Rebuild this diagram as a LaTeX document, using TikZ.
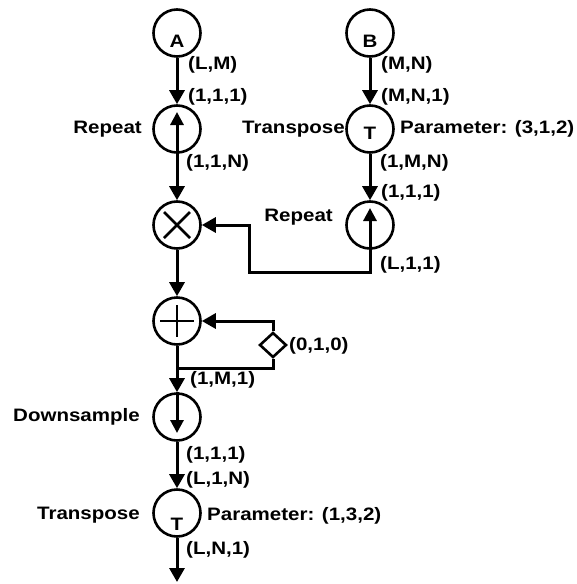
\documentclass[tikz,border=0pt]{standalone}
\usepackage{fontspec}
\setmainfont{Liberation Sans}[FakeStretch=1.14]
\usetikzlibrary{arrows.meta,shapes.geometric}
\begin{document}
\begin{tikzpicture}[x=1pt,y=-1pt,
  op/.style={circle,draw,line width=2.6pt,minimum size=47pt,inner sep=0pt},
  conn/.style={line width=3pt,-{Triangle[width=15pt,length=14pt]}},
  wire/.style={line width=3pt},
  sym/.style={line width=2.6pt},
  symarrow/.style={line width=3pt,-{Triangle[width=13pt,length=13pt]}},
  lbl/.style={font=\fontsize{18}{20}\selectfont\bfseries,inner sep=0pt},
  lw/.style={lbl,anchor=west},
  le/.style={lbl,anchor=east}]
\useasboundingbox (0,0) rectangle (577,584);
% operation circles
\node[op] (A) at (177,33) {};
\node[op] (B) at (370,33) {};
\node[op] (rep1) at (177,129) {};
\node[op] (trT) at (370,129) {};
\node[op] (mul) at (177,225) {};
\node[op] (rep2) at (370,225) {};
\node[op] (plus) at (177,321) {};
\node[op] (down) at (177,417) {};
\node[op] (trB) at (177,513) {};
\node[diamond,draw,line width=2.6pt,minimum width=27pt,minimum height=25pt,inner sep=0pt] (zero) at (273,345) {};
\coordinate (out) at (177,582);
\coordinate (fbturn) at (370,272);
\coordinate (fb) at (249,225);
\coordinate (br) at (177,368);
% letters inside
\node[lbl] (At) at (177,41) {A};
\node[lbl] (Bt) at (370,41) {B};
\node[lbl] (Tt1) at (370,133) {T};
\node[lbl] (Tt2) at (177,524) {T};
% symbols inside
\draw[symarrow] (rep1.south) -- ([yshift=17pt]rep1.center);
\draw[symarrow] (rep2.south) -- ([yshift=17pt]rep2.center);
\draw[symarrow] (down.north) -- ([yshift=-16pt]down.center);
\draw[sym] ([shift={(-13,-13)}]mul.center) -- ([shift={(13,13)}]mul.center);
\draw[sym] ([shift={(-13,13)}]mul.center) -- ([shift={(13,-13)}]mul.center);
\draw[sym] ([shift={(-17,0)}]plus.center) -- ([shift={(17,0)}]plus.center);
\draw[sym] ([shift={(0,-16)}]plus.center) -- ([shift={(0,16)}]plus.center);
% connectors
\draw[conn] (A) -- (rep1);
\draw[conn] (rep1) -- (mul);
\draw[conn] (mul) -- (plus);
\draw[conn] (plus) -- (down);
\draw[conn] (down) -- (trB);
\draw[conn] (trB) -- (out);
\draw[conn] (B) -- (trT);
\draw[conn] (trT) -- (rep2);
\draw[conn] (rep2.south) -- (fbturn) -| (fb) -- (mul.east);
\draw[wire] (br) -| (zero.south);
\draw[conn] (zero.north) |- (plus.east);
% labels
\node[lw] (l1) at (188,65) {(L,M)};
\node[lw] (l2) at (188,97) {(1,1,1)};
\node[le] (l3) at (142,129) {Repeat};
\node[lw] (l4) at (186,163) {(1,1,N)};
\node[lw] (l5) at (381,65) {(M,N)};
\node[lw] (l6) at (381,97) {(M,N,1)};
\node[le] (l7) at (345,129) {Transpose};
\node[lw] (l8) at (400,129) {Parameter: (3,1,2)};
\node[lw] (l9) at (380,163) {(1,M,N)};
\node[lw] (l10) at (381,193) {(1,1,1)};
\node[le] (l11) at (333,217) {Repeat};
\node[lw] (l12) at (380,265) {(L,1,1)};
\node[lw] (l13) at (289,346) {(0,1,0)};
\node[lw] (l14) at (190,380) {(1,M,1)};
\node[le] (l15) at (140,417) {Downsample};
\node[lw] (l16) at (186,455) {(1,1,1)};
\node[lw] (l17) at (186,480) {(L,1,N)};
\node[le] (l18) at (140,515) {Transpose};
\node[lw] (l19) at (207,516) {Parameter: (1,3,2)};
\node[lw] (l20) at (186,550) {(L,N,1)};
\end{tikzpicture}
\end{document}
